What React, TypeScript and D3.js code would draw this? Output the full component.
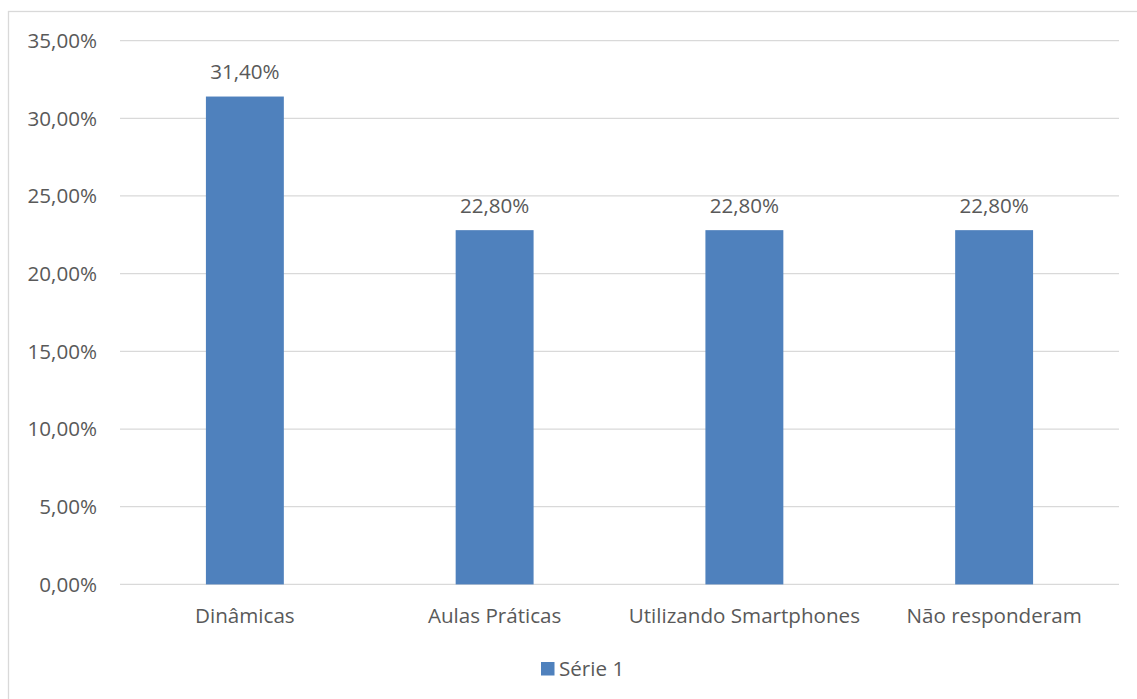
import React from "react";
import * as d3 from "d3";

const categories = ["Dinâmicas", "Aulas Práticas", "Utilizando Smartphones", "Não responderam"];
const values = [31.4, 22.8, 22.8, 22.8];
const yTicks = [0, 5, 10, 15, 20, 25, 30, 35];
const seriesName = "Série 1";

const W = 1137;
const H = 699;
const FONT = "'Open Sans', sans-serif";
const TEXT = "#595959";
const BAR = "#4F81BD";
const GRID = "#D9D9D9";

const fmt = (v: number) => v.toFixed(2).replace(".", ",") + "%";

export default function App() {
  const x = d3.scaleBand<string>().domain(categories).range([120, 1119]).paddingInner(0.688).paddingOuter(0.344);
  const y = d3.scaleLinear().domain([0, 35]).range([584.4, 40.6]);
  const fs = 20.6;
  return (
    <svg width={W} height={H} style={{ position: "absolute", left: 0, top: 0, background: "#fff" }} fontFamily={FONT}>
      <rect x={8.5} y={11.5} width={W + 20} height={H + 20} fill="#fff" stroke={GRID} strokeWidth={1.3} />
      {yTicks.map((t) => (
        <g key={t}>
          <line x1={120} x2={1119} y1={y(t)} y2={y(t)} stroke={GRID} strokeWidth={1.3} />
          <text x={97} y={y(t)} dy="0.36em" textAnchor="end" fontSize={fs} fill={TEXT}>{fmt(t)}</text>
        </g>
      ))}
      {categories.map((c, i) => (
        <g key={c}>
          <rect x={x(c)} y={y(values[i])} width={x.bandwidth()} height={y(0) - y(values[i])} fill={BAR} />
          <text x={(x(c) as number) + x.bandwidth() / 2} y={y(values[i]) - 17.5} textAnchor="middle" fontSize={fs} fill={TEXT}>{fmt(values[i])}</text>
          <text x={(x(c) as number) + x.bandwidth() / 2} y={622.5} textAnchor="middle" fontSize={fs} fill={TEXT}>{c}</text>
        </g>
      ))}
      <rect x={541} y={662} width={13.5} height={13.5} fill={BAR} />
      <text x={559} y={676} fontSize={fs} fill={TEXT}>{seriesName}</text>
    </svg>
  );
}
